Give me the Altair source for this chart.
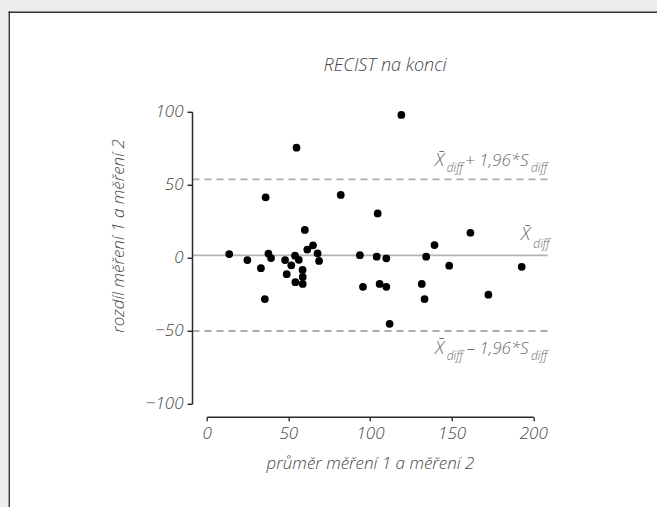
import altair as alt
import pandas as pd

# ---- data (Bland-Altman plot) ----
mean_12 = [13.8, 24.9, 33.2, 35.6, 37.8, 39.4, 48.0, 49.0, 51.8, 54.1,
           54.3, 56.4, 58.7, 58.8, 58.8, 60.1, 61.6, 65.1, 67.9, 68.8,
           93.8, 95.7, 104.1, 105.9, 110.0, 110.0, 112.0, 131.7, 133.4, 134.4,
           139.5, 148.5, 161.5, 172.5, 192.9, 55.0, 36.1, 82.1, 104.7, 119.2]
diff_12 = [2.9, -1.2, -6.8, -27.9, 3.2, 0.2, -1.2, -10.9, -4.8, 1.8,
           -16.4, -1.0, -8.0, -12.8, -17.6, 19.4, 6.0, 8.9, 3.4, -1.8,
           2.1, -19.5, 1.1, -17.6, 0.0, -19.5, -44.9, -17.6, -27.9, 1.1,
           9.1, -5.1, 17.5, -24.9, -5.8, 75.8, 41.8, 43.4, 30.7, 98.2]

mean_diff = 2.0
upper_loa = 54.0
lower_loa = -49.8

x_ticks = [0, 50, 100, 150, 200]
y_ticks = [-100, -50, 0, 50, 100]
y_tick_labels = ["\u2212100", "\u221250", "0", "50", "100"]

title_text = "RECIST na konci"
x_title = "průměr měření 1 a měření 2"
y_title = "rozdíl měření 1 a měření 2"

XBAR = "X\u0304"
SUB = "diff"
upper_main = "+ 1,96*S"
lower_main = "\u2013 1,96*S"

FONT = "Open Sans"
TXT = "#474747"
ANN = "#6b6b6b"
AX = "#2a2a2a"

W, H = 326.6, 292
YOFF = 14.2

pts = pd.DataFrame({"m": mean_12, "y": diff_12})
xscale = alt.Scale(domain=[0, 200], nice=False, zero=False)
yscale = alt.Scale(domain=[-100, 100], nice=False, zero=False)

# white frame panel behind the chart (left and top border only), kept inside the page
one = pd.DataFrame({"a": [0]})
frame = alt.Chart(one).mark_rect(fill="white").encode(
    x=alt.value(-197.4), x2=alt.value(450.3), y=alt.value(-100), y2=alt.value(394.7))
frame_left = alt.Chart(one).mark_rule(color="#333333", strokeWidth=1.4).encode(
    x=alt.value(-197.4), y=alt.value(-100.7), y2=alt.value(394.7))
frame_top = alt.Chart(one).mark_rule(color="#333333", strokeWidth=1.4).encode(
    x=alt.value(-198.1), x2=alt.value(450.3), y=alt.value(-100))

title_mark = alt.Chart(pd.DataFrame({"t": [title_text]})).mark_text(
    align="center", baseline="alphabetic", font=FONT, fontSize=18, fontStyle="italic",
    fontWeight=300, color=TXT
).encode(x=alt.value(178.3), y=alt.value(-41.6), text="t:N")

# y axis: spine, ticks, labels and title drawn through the y scale
ytick_df = pd.DataFrame({"y": y_ticks, "lab": y_tick_labels})
y_spine = alt.Chart(pd.DataFrame({"y": [y_ticks[0]], "y2": [y_ticks[-1]]})).mark_rule(
    color=AX, strokeWidth=1.5
).encode(x=alt.value(-YOFF), y=alt.Y("y:Q", scale=yscale, axis=None), y2="y2:Q")
y_tickmarks = alt.Chart(ytick_df).mark_rule(color=AX, strokeWidth=1.5).encode(
    x=alt.value(-YOFF - 5), x2=alt.value(-YOFF), y=alt.Y("y:Q", scale=yscale, axis=None))
y_ticklabels = alt.Chart(ytick_df).mark_text(
    align="right", baseline="middle", font=FONT, fontSize=17, fontStyle="italic",
    fontWeight=300, color=TXT
).encode(x=alt.value(-YOFF - 9), y=alt.Y("y:Q", scale=yscale, axis=None), text="lab:N")
y_title_mark = alt.Chart(pd.DataFrame({"t": [y_title]})).mark_text(
    align="center", baseline="alphabetic", angle=270, font=FONT, fontSize=17,
    fontStyle="italic", fontWeight=300, color=TXT
).encode(x=alt.value(-82.7), y=alt.value(123.7), text="t:N")

lines_df = pd.DataFrame({"y": [upper_loa, lower_loa]})
dashed = alt.Chart(lines_df).mark_rule(color="#ababab", strokeWidth=1.8, strokeDash=[7, 5]).encode(
    x=alt.value(-YOFF), x2=alt.value(341), y=alt.Y("y:Q", scale=yscale, axis=None)
)
solid = alt.Chart(pd.DataFrame({"y": [mean_diff]})).mark_rule(color="#b3b3b3", strokeWidth=1.8).encode(
    x=alt.value(-YOFF), x2=alt.value(341), y=alt.Y("y:Q", scale=yscale, axis=None)
)

points = alt.Chart(pts).mark_circle(size=60, color="black", opacity=1).encode(
    x=alt.X("m:Q", scale=xscale, axis=alt.Axis(
        values=x_ticks, offset=12.4, tickSize=4, tickWidth=1.4, tickColor=AX,
        domainColor=AX, domainWidth=1.4, grid=False, labelFlush=False, zindex=2,
        labelFont=FONT, labelFontSize=17, labelFontStyle="italic", labelFontWeight=300,
        labelColor=TXT, labelPadding=5, title=x_title, titleFont=FONT, titleFontSize=17,
        titleFontStyle="italic", titleFontWeight=300, titleColor=TXT,
        titleBaseline="alphabetic", titleY=51.5, titleX=W / 2, titleAlign="center")),
    y=alt.Y("y:Q", scale=yscale, axis=None),
)


def seg(text, yval, dy, xpx, size):
    return alt.Chart(pd.DataFrame({"y": [yval], "t": [text]})).mark_text(
        align="left", baseline="alphabetic", dy=dy, fontSize=size, font=FONT,
        fontStyle="italic", fontWeight=300, color=ANN
    ).encode(x=alt.value(xpx), y=alt.Y("y:Q", scale=yscale, axis=None), text="t:N")


labels = [
    # upper limit label
    seg(XBAR, upper_loa, -13.3, 228.3, 18),
    seg(SUB, upper_loa, -7.6, 240.0, 12),
    seg(upper_main, upper_loa, -13.3, 258.3, 17),
    seg(SUB, upper_loa, -7.6, 324.3, 12),
    # mean label
    seg(XBAR, mean_diff, -15.0, 314.3, 18),
    seg(SUB, mean_diff, -7.4, 326.6, 12),
    # lower limit label
    seg(XBAR, lower_loa, 22.6, 228.3, 18),
    seg(SUB, lower_loa, 28.6, 240.0, 12),
    seg(lower_main, lower_loa, 22.6, 260.0, 17),
    seg(SUB, lower_loa, 28.6, 324.3, 12),
]

chart = alt.layer(frame, frame_left, frame_top, title_mark, dashed, solid,
                  *labels, points, y_spine, y_tickmarks, y_ticklabels, y_title_mark).properties(
    width=W, height=H,
    autosize=alt.AutoSizeParams(type="none"),
    padding={"left": 206.7, "top": 112.3, "right": 123.7, "bottom": 102.7},
).configure(background="#ececec").configure_view(stroke=None)

chart.save("out.html", embed_options={"renderer": "svg", "actions": False})
